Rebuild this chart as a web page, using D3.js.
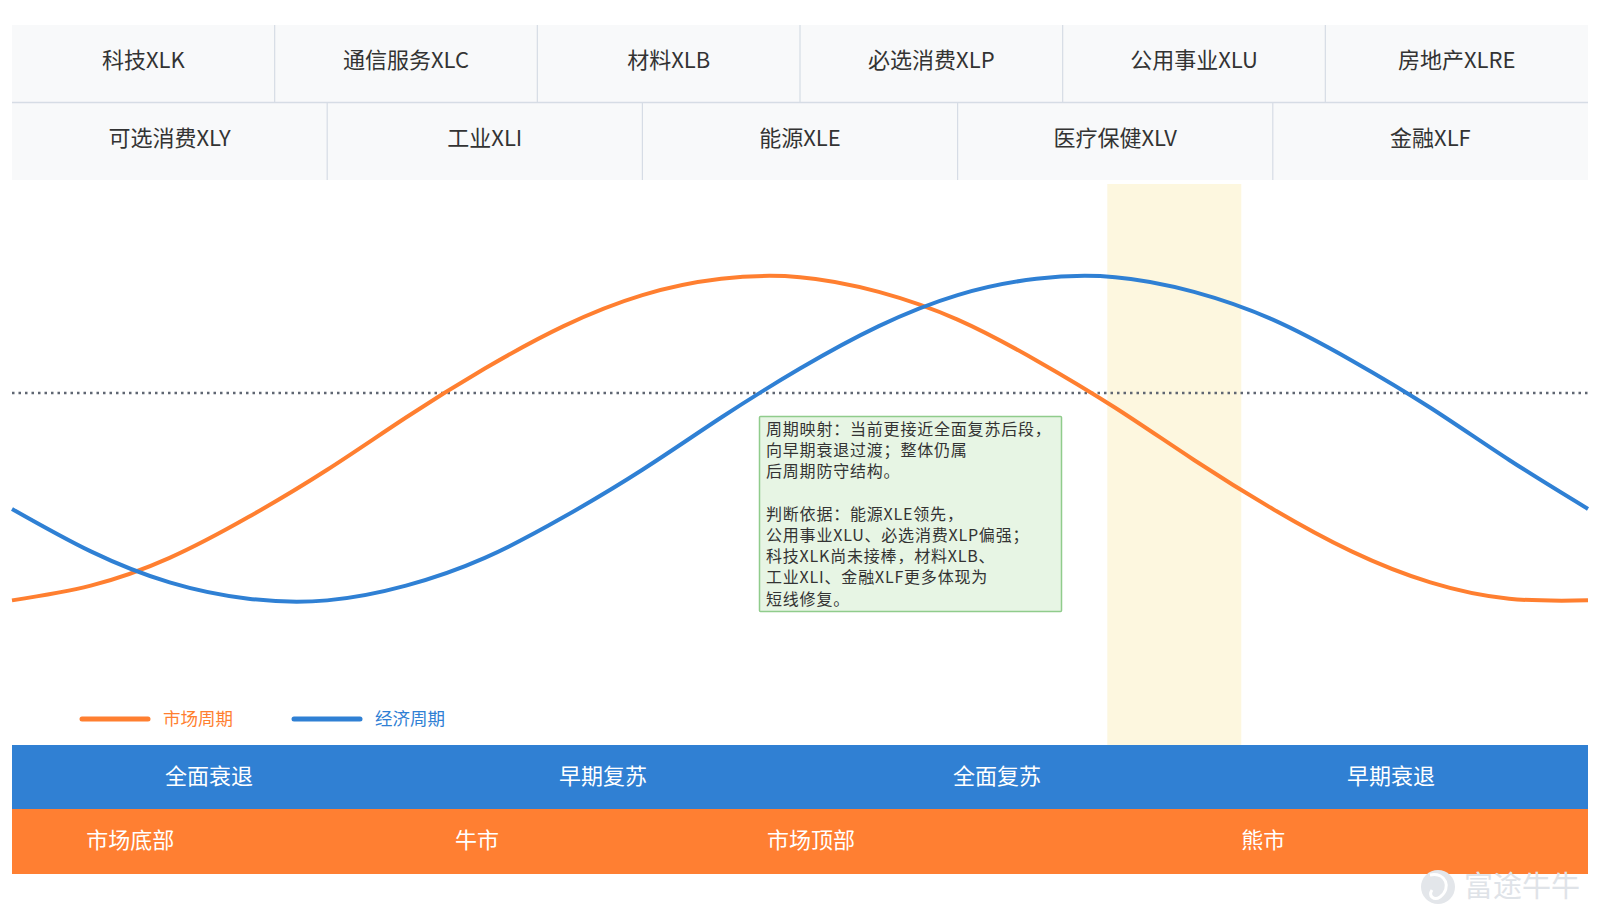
<!DOCTYPE html>
<html lang="zh">
<head>
<meta charset="utf-8">
<title>Sector cycle</title>
<script src="https://d3js.org/d3.v7.min.js"></script>
<style>
  body { margin: 0; background: #fff; }
  svg text { font-family: "Noto Sans CJK SC", "Noto Sans", sans-serif; }
</style>
</head>
<body>
<div id="main"></div>
<script>

// sector table rows
var sectorsTop = ["科技XLK", "通信服务XLC", "材料XLB", "必选消费XLP", "公用事业XLU", "房地产XLRE"];
var sectorsBottom = ["可选消费XLY", "工业XLI", "能源XLE", "医疗保健XLV", "金融XLF"];

// cycle position (0-100) and curve values
var cyclePos = [0, 5, 10, 15, 20, 25, 30, 35, 40, 45, 50, 55, 60, 65, 70, 75, 80, 85, 90, 95, 100];
var marketCycle = [-0.99, -0.90, -0.73, -0.48, -0.19, 0.13, 0.43, 0.69, 0.88, 0.98, 0.99, 0.90, 0.73, 0.48, 0.19, -0.13, -0.43, -0.69, -0.88, -0.98, -0.99];
var economyCycle = [-0.43, -0.69, -0.88, -0.98, -0.99, -0.90, -0.73, -0.48, -0.19, 0.13, 0.43, 0.69, 0.88, 0.98, 0.99, 0.90, 0.73, 0.48, 0.19, -0.13, -0.43];
var baseline = 0.28;

// current position highlight
var currentBand = [69.5, 78];

var economyPhases = ["全面衰退", "早期复苏", "全面复苏", "早期衰退"];
var marketPhases = ["市场底部", "牛市", "市场顶部", "熊市"];
var marketPhasePos = [7.5, 29.5, 50.7, 79.4];

var noteLines = [
  "周期映射：当前更接近全面复苏后段，",
  "向早期衰退过渡；整体仍属",
  "后周期防守结构。",
  "",
  "判断依据：能源XLE领先，",
  "公用事业XLU、必选消费XLP偏强；",
  "科技XLK尚未接棒，材料XLB、",
  "工业XLI、金融XLF更多体现为",
  "短线修复。"
];

var width = 1600, height = 923;
var left = 12, right = 1588;
var orange = "#ff7f30", blue = "#2f80d4";

var svg = d3.select("#main").append("svg")
  .attr("width", width)
  .attr("height", height);

var x = d3.scaleLinear().domain([0, 100]).range([left, right]);
var y = d3.scaleLinear().domain([-1, 1]).range([602, 275.5]);

// ---- sector table ----
var rowH = 77.5, tableTop = 25;
function tableRow(names, y0, textY) {
  var band = d3.scaleBand().domain(names).range([left, right]);
  var g = svg.append("g");
  g.selectAll("rect")
    .data(names)
    .enter().append("rect")
    .attr("x", function(d) { return band(d); })
    .attr("y", y0)
    .attr("width", band.bandwidth())
    .attr("height", rowH)
    .attr("fill", "#f8f9fa");
  g.selectAll("line")
    .data(names.slice(1))
    .enter().append("line")
    .attr("x1", function(d) { return band(d); })
    .attr("x2", function(d) { return band(d); })
    .attr("y1", y0)
    .attr("y2", y0 + rowH)
    .attr("stroke", "#d6dce5")
    .attr("stroke-width", 1.2);
  g.selectAll("text")
    .data(names)
    .enter().append("text")
    .attr("x", function(d) { return band(d) + band.bandwidth() / 2; })
    .attr("y", textY)
    .attr("dy", "0.35em")
    .attr("text-anchor", "middle")
    .attr("font-size", 22)
    .attr("fill", "#333")
    .text(function(d) { return d; });
}
tableRow(sectorsTop, tableTop, 60);
tableRow(sectorsBottom, tableTop + rowH, 138.5);
svg.append("line")
  .attr("x1", left).attr("x2", right)
  .attr("y1", tableTop + rowH).attr("y2", tableTop + rowH)
  .attr("stroke", "#d6dce5").attr("stroke-width", 1.5);

// ---- highlight band ----
svg.append("rect")
  .attr("x", x(currentBand[0]))
  .attr("y", 184)
  .attr("width", x(currentBand[1]) - x(currentBand[0]))
  .attr("height", 745 - 184)
  .attr("fill", "#fdf7df");

// ---- baseline ----
svg.append("line")
  .attr("x1", left).attr("x2", right)
  .attr("y1", y(baseline)).attr("y2", y(baseline))
  .attr("stroke", "#5f6672")
  .attr("stroke-width", 2.5)
  .attr("stroke-dasharray", "2.5,4");

// ---- curves ----
var line = d3.line()
  .x(function(d) { return x(d[0]); })
  .y(function(d) { return y(d[1]); })
  .curve(d3.curveNatural);

svg.append("path")
  .datum(d3.zip(cyclePos, marketCycle))
  .attr("d", line)
  .attr("fill", "none")
  .attr("stroke", orange)
  .attr("stroke-width", 4);

svg.append("path")
  .datum(d3.zip(cyclePos, economyCycle))
  .attr("d", line)
  .attr("fill", "none")
  .attr("stroke", blue)
  .attr("stroke-width", 4);

// ---- note box ----
svg.append("rect")
  .attr("x", 759.5).attr("y", 416.5)
  .attr("width", 302).attr("height", 195)
  .attr("fill", "#e7f5e4")
  .attr("stroke", "#90cc8c")
  .attr("stroke-width", 1.5)
  .attr("rx", 1);

svg.append("g").selectAll("text")
  .data(noteLines)
  .enter().append("text")
  .attr("x", 766)
  .attr("y", function(d, i) { return 435 + i * 21.2; })
  .attr("font-size", 16)
  .attr("letter-spacing", 0.8)
  .attr("fill", "#333")
  .text(function(d) { return d; });

// ---- legend ----
var legend = [["市场周期", orange, 82], ["经济周期", blue, 294]];
var lg = svg.append("g").selectAll("g")
  .data(legend)
  .enter().append("g")
  .attr("transform", function(d) { return "translate(" + d[2] + ",719)"; });
lg.append("line")
  .attr("x1", 0).attr("x2", 66)
  .attr("stroke", function(d) { return d[1]; })
  .attr("stroke-width", 5)
  .attr("stroke-linecap", "round");
lg.append("text")
  .attr("x", 81)
  .attr("dy", "0.35em")
  .attr("font-size", 17.5)
  .attr("fill", function(d) { return d[1]; })
  .text(function(d) { return d[0]; });

// ---- phase bands ----
var phaseBand = d3.scaleBand().domain(economyPhases).range([left, right]);
svg.append("rect")
  .attr("x", left).attr("y", 745)
  .attr("width", right - left).attr("height", 64)
  .attr("fill", "#3080d3");
svg.append("g").selectAll("text")
  .data(economyPhases)
  .enter().append("text")
  .attr("x", function(d) { return phaseBand(d) + phaseBand.bandwidth() / 2; })
  .attr("y", 776.5)
  .attr("dy", "0.35em")
  .attr("text-anchor", "middle")
  .attr("font-size", 22)
  .attr("fill", "#fff")
  .text(function(d) { return d; });

svg.append("rect")
  .attr("x", left).attr("y", 809)
  .attr("width", right - left).attr("height", 65)
  .attr("fill", "#ff7f32");
svg.append("g").selectAll("text")
  .data(marketPhases)
  .enter().append("text")
  .attr("x", function(d, i) { return x(marketPhasePos[i]); })
  .attr("y", 840.5)
  .attr("dy", "0.35em")
  .attr("text-anchor", "middle")
  .attr("font-size", 22)
  .attr("fill", "#fff")
  .text(function(d) { return d; });

// ---- watermark ----
var wm = svg.append("g");
wm.append("circle")
  .attr("cx", 1438).attr("cy", 887).attr("r", 17)
  .attr("fill", "#e3e6ea");
wm.append("path")
  .attr("d", "M1430,875 C1446,872 1452,888 1440,897 C1434,901 1428,896 1432,890")
  .attr("fill", "none")
  .attr("stroke", "#fff")
  .attr("stroke-width", 3);
wm.append("text")
  .attr("x", 1464).attr("y", 887)
  .attr("dy", "0.35em")
  .attr("font-size", 29)
  .attr("fill", "#dfe3e8")
  .text("富途牛牛");

</script>
</body>
</html>
